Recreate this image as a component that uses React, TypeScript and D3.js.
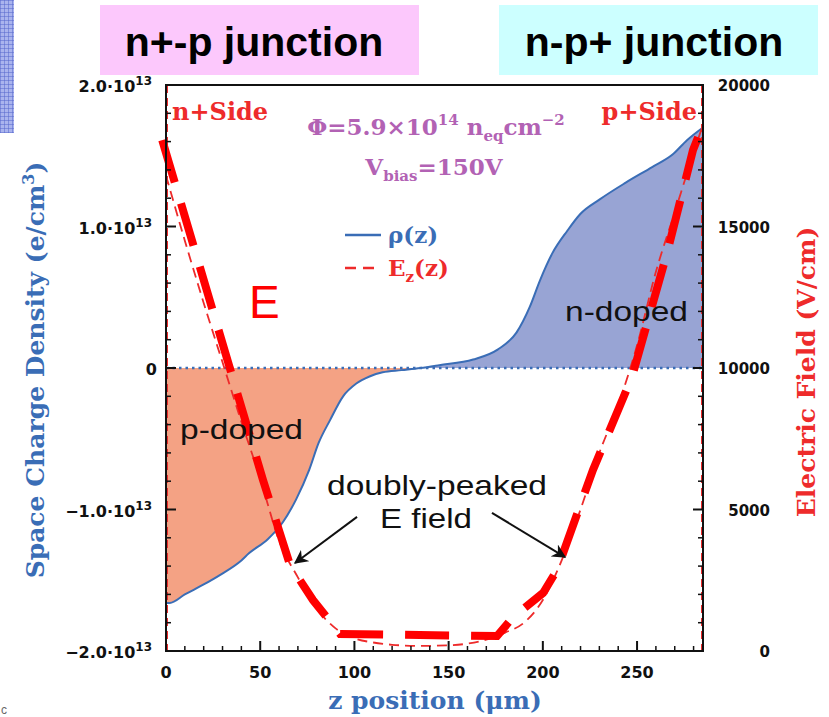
import * as d3 from 'd3';

// axis ticks
const zTicks = [0, 50, 100, 150, 200, 250];
const rhoTicks = [-2e13, -1e13, 0, 1e13, 2e13];
const eTicks = [0, 5000, 10000, 15000, 20000];

// space charge density rho(z), in units of 1e13 e/cm^3
const rhoZ = [0, 2, 10, 20, 29, 40, 44, 54, 62, 69, 76, 81, 87, 94, 101, 108, 115, 125, 135, 145, 163, 176, 186, 193, 198.5, 205, 213, 220, 230, 244, 258, 269, 276.5, 285];
const rhoVal = [-1.66, -1.66, -1.6, -1.53, -1.46, -1.36, -1.31, -1.21, -1.09, -0.93, -0.72, -0.53, -0.37, -0.2, -0.11, -0.06, -0.03, -0.015, 0, 0.02, 0.06, 0.13, 0.25, 0.43, 0.62, 0.81, 0.97, 1.09, 1.19, 1.31, 1.42, 1.51, 1.61, 1.7];

// simulated electric field Ez(z), V/cm
const eZ = [0, 10, 20, 30, 40, 50, 60, 70, 80, 90, 100, 110, 120, 135, 150, 160, 170, 180, 190, 200, 210, 220, 230, 240, 250, 260, 270, 280, 285];
const eVal = [16800, 14500, 12300, 10200, 8100, 6100, 3900, 2600, 1500, 800, 450, 300, 220, 180, 200, 260, 400, 650, 1000, 1800, 3200, 5000, 7000, 8700, 10800, 13400, 15500, 17600, 18600];

// hand drawn thick overlay of the doubly peaked field
const sketchZ = [-2, 51.5, 65.8, 78, 92.4, 175.7, 184.2, 200.1, 207.5, 226.6, 247.3, 265.9, 279.7, 285];
const sketchE = [18050, 6040, 3040, 1800, 600, 530, 1200, 2050, 2860, 6400, 9680, 14060, 17700, 18590];

const W = 829;
const H = 717;
const L = 166, R = 703, T = 85, B = 651;

const blue = '#3a6db6';
const red = '#ee2b2b';
const purple = '#b262b4';
const serif = '"DejaVu Serif", serif';
const sans = '"Liberation Sans", Arial, sans-serif';
const tickFont = '"DejaVu Sans", sans-serif';

export default function App() {
  const x = d3.scaleLinear().domain([0, 285]).range([L, R]);
  const yRho = d3.scaleLinear().domain([-2, 2]).range([B, T]);
  const yE = d3.scaleLinear().domain([0, 20000]).range([B, T]);

  const rho = rhoZ.map((z, i) => ({ z, v: rhoVal[i] }));
  const ef = eZ.map((z, i) => ({ z, v: eVal[i] }));
  const sk = sketchZ.map((z, i) => ({ z, v: sketchE[i] }));

  const areaNeg = d3.area<any>().x(d => x(d.z)).y0(yRho(0)).y1(d => yRho(Math.min(d.v, 0))).curve(d3.curveMonotoneX);
  const areaPos = d3.area<any>().x(d => x(d.z)).y0(yRho(0)).y1(d => yRho(Math.max(d.v, 0))).curve(d3.curveMonotoneX);
  const rhoLine = d3.line<any>().x(d => x(d.z)).y(d => yRho(d.v)).curve(d3.curveMonotoneX);
  const eLine = d3.line<any>().x(d => x(d.z)).y(d => yE(d.v)).curve(d3.curveMonotoneX);
  const skLine = d3.line<any>().x(d => x(d.z)).y(d => yE(d.v));

  const zMinor = d3.range(0, 286, 10).filter(v => v % 50 !== 0);
  const rhoMinor = d3.range(-2, 2.01, 0.2).filter(v => Math.abs(v - Math.round(v)) > 0.01);
  const eMinor = d3.range(0, 20001, 1000).filter(v => v % 5000 !== 0);

  const fmtRho = (v: number) => {
    if (v === 0) return null;
    return (v < 0 ? '−' : '') + Math.abs(v / 1e13).toFixed(1) + '·10';
  };

  // arrows (data coords: z, E)
  const arrows = [
    { z0: 101.4, e0: 4740, z1: 68.5, e1: 3110 },
    { z0: 173, e0: 4880, z1: 211.8, e1: 3320 },
  ];

  return (
    <svg width={W} height={H} style={{ position: 'absolute', left: 0, top: 0, background: '#fff' }}>
      <defs>
        <pattern id="grid" width="4" height="4" patternUnits="userSpaceOnUse">
          <rect width="4" height="4" fill="#aab4ee" />
          <path d="M0 0H4M0 0V4" stroke="#5566cc" strokeWidth="1" />
        </pattern>
        <marker id="arr" viewBox="0 0 10 10" refX="9" refY="5" markerWidth="7" markerHeight="7" orient="auto">
          <path d="M0 0L10 5L0 10L3 5Z" fill="#111" />
        </marker>
      </defs>

      {/* slide decoration */}
      <rect x={0} y={0} width={14} height={133} fill="url(#grid)" />
      <text x={1} y={714} fontFamily={sans} fontSize={12} fill="#666">c</text>

      {/* headers */}
      <rect x={100} y={5} width={319} height={70} fill="#fcc8fc" />
      <text x={254} y={56} textAnchor="middle" fontFamily={sans} fontWeight="bold" fontSize={41} fill="#000">n+-p junction</text>
      <rect x={499} y={5} width={319} height={70} fill="#ccffff" />
      <text x={654} y={56} textAnchor="middle" fontFamily={sans} fontWeight="bold" fontSize={41} fill="#000">n-p+ junction</text>

      {/* charge density fills */}
      <path d={areaNeg(rho) || ''} fill="#f4a284" />
      <path d={areaPos(rho) || ''} fill="#98a4d4" />
      <path d={rhoLine(rho) || ''} fill="none" stroke={blue} strokeWidth={2} />
      <line x1={L} x2={L} y1={yRho(0)} y2={yRho(rhoVal[0])} stroke={blue} strokeWidth={2} />
      <line x1={L} x2={R} y1={yRho(0)} y2={yRho(0)} stroke={blue} strokeWidth={2.5} strokeDasharray="2.5,4" />

      {/* electric field */}
      <line x1={L + 1} x2={L + 1} y1={T} y2={B} stroke={red} strokeWidth={2} strokeDasharray="8,5" />
      <line x1={R - 1} x2={R - 1} y1={T} y2={B} stroke={red} strokeWidth={2} strokeDasharray="8,5" />
      <path d={eLine(ef) || ''} fill="none" stroke={red} strokeWidth={1.8} strokeDasharray="10,6" />
      <path d={skLine(sk) || ''} fill="none" stroke="#ff0000" strokeWidth={8} strokeDasharray="44,22" />

      {/* frame */}
      <rect x={L} y={T} width={R - L} height={B - T} fill="none" stroke="#111" strokeWidth={2} />

      {/* x ticks */}
      {zTicks.map(t => (
        <g key={'zt' + t}>
          <line x1={x(t)} x2={x(t)} y1={B} y2={B - 10} stroke="#111" strokeWidth={2} />
          <text x={x(t)} y={B + 27} textAnchor="middle" fontFamily={tickFont} fontWeight="bold" fontSize={16} fill="#111">{t}</text>
        </g>
      ))}
      {zMinor.map(t => (
        <line key={'zm' + t} x1={x(t)} x2={x(t)} y1={B} y2={B - 5} stroke="#111" strokeWidth={1.5} />
      ))}

      {/* left ticks */}
      {rhoTicks.map(t => {
        const lab = fmtRho(t);
        return (
          <g key={'rt' + t}>
            <line x1={L} x2={L + 10} y1={yRho(t / 1e13)} y2={yRho(t / 1e13)} stroke="#111" strokeWidth={2} />
            <text x={lab ? 152 : 157} y={yRho(t / 1e13) + 7} textAnchor="end" fontFamily={tickFont} fontWeight="bold" fontSize={16} fill="#111">
              {lab ? <>{lab}<tspan fontSize={12} dy={-7}>13</tspan></> : '0'}
            </text>
          </g>
        );
      })}
      {rhoMinor.map(t => (
        <line key={'rm' + t} x1={L} x2={L + 5} y1={yRho(t)} y2={yRho(t)} stroke="#111" strokeWidth={1.5} />
      ))}

      {/* right ticks */}
      {eTicks.map(t => (
        <g key={'et' + t}>
          <line x1={R} x2={R - 10} y1={yE(t)} y2={yE(t)} stroke="#111" strokeWidth={2} />
          <text x={770} y={yE(t) + 6} textAnchor="end" fontFamily={tickFont} fontWeight="bold" fontSize={15} fill="#111">{t}</text>
        </g>
      ))}
      {eMinor.map(t => (
        <line key={'em' + t} x1={R} x2={R - 5} y1={yE(t)} y2={yE(t)} stroke="#111" strokeWidth={1.5} />
      ))}

      {/* axis titles */}
      <text transform={`translate(44,${370}) rotate(-90)`} textAnchor="middle" fontFamily={serif} fontWeight="bold" fontSize={25} fill={blue}>
        Space Charge Density (e/cm<tspan fontSize={16} dy={-10}>3</tspan><tspan dy={10}>)</tspan>
      </text>
      <text transform={`translate(815,${372}) rotate(-90)`} textAnchor="middle" fontFamily={serif} fontWeight="bold" fontSize={25} fill={red}>
        Electric Field (V/cm)
      </text>
      <text x={435} y={709} textAnchor="middle" fontFamily={serif} fontWeight="bold" fontSize={25} fill={blue}>
        z position (μm)
      </text>

      {/* in-plot labels */}
      <text x={172} y={120} fontFamily={serif} fontWeight="bold" fontSize={24} fill={red}>n+Side</text>
      <text x={697} y={120} textAnchor="end" fontFamily={serif} fontWeight="bold" fontSize={24} fill={red}>p+Side</text>
      <text x={436} y={135} textAnchor="middle" fontFamily={serif} fontWeight="bold" fontSize={23} fill={purple}>
        Φ=5.9×10<tspan fontSize={15} dy={-10}>14</tspan>
        <tspan dy={10}> n</tspan><tspan fontSize={15} dy={6}>eq</tspan>
        <tspan dy={-6}>cm</tspan><tspan fontSize={15} dy={-10}>−2</tspan>
      </text>
      <text x={434} y={175} textAnchor="middle" fontFamily={serif} fontWeight="bold" fontSize={23} fill={purple}>
        V<tspan fontSize={15} dy={6}>bias</tspan><tspan dy={-6}>=150V</tspan>
      </text>

      {/* legend */}
      <line x1={345} x2={381} y1={235} y2={235} stroke={blue} strokeWidth={2.5} />
      <text x={388} y={243} fontFamily={serif} fontWeight="bold" fontSize={23} fill={blue}>ρ(z)</text>
      <line x1={345} x2={381} y1={268} y2={268} stroke={red} strokeWidth={2.5} strokeDasharray="11,7" />
      <text x={388} y={276} fontFamily={serif} fontWeight="bold" fontSize={23} fill={red}>
        E<tspan fontSize={15} dy={6}>z</tspan><tspan dy={-6}>(z)</tspan>
      </text>

      <text x={249} y={318} fontFamily={sans} fontSize={46} fill="#ff0000">E</text>
      <text x={180} y={439} fontFamily={sans} fontSize={28} textLength={123} lengthAdjust="spacingAndGlyphs" fill="#111">p-doped</text>
      <text x={565} y={321} fontFamily={sans} fontSize={28} textLength={123} lengthAdjust="spacingAndGlyphs" fill="#111">n-doped</text>
      <text x={437} y={495} textAnchor="middle" fontFamily={sans} fontSize={28} textLength={220} lengthAdjust="spacingAndGlyphs" fill="#111">doubly-peaked</text>
      <text x={426} y={528} textAnchor="middle" fontFamily={sans} fontSize={28} textLength={92} lengthAdjust="spacingAndGlyphs" fill="#111">E field</text>

      {arrows.map((a, i) => (
        <line key={'ar' + i} x1={x(a.z0)} y1={yE(a.e0)} x2={x(a.z1)} y2={yE(a.e1)} stroke="#111" strokeWidth={2} markerEnd="url(#arr)" />
      ))}
    </svg>
  );
}
